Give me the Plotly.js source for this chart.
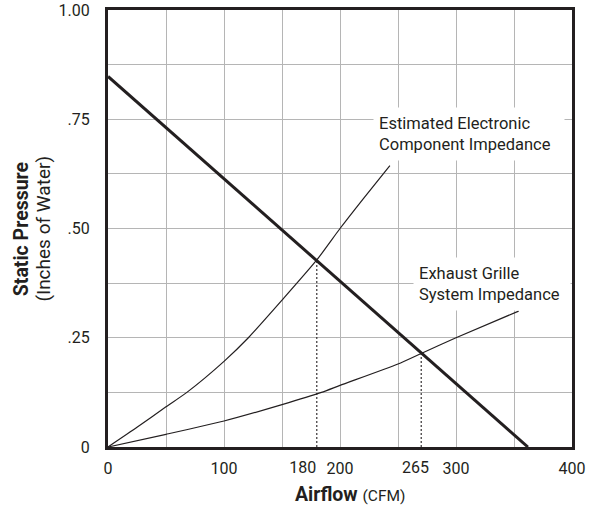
<!DOCTYPE html>
<html>
<head>
<meta charset="utf-8">
<script src="https://cdn.plot.ly/plotly-3.0.1.min.js"></script>
<style>html,body{margin:0;padding:0;background:#fff}#chart{width:590px;height:506px}</style>
</head>
<body>
<div id="chart"></div>
<script>
// Fan curve (thick line)
var fanX = [0, 362];
var fanY = [0.848, 0];

// Estimated electronic component impedance
var elecX = [0, 25, 50, 68, 100, 121, 150, 180, 200, 220, 243];
var elecY = [0, 0.045, 0.092, 0.125, 0.196, 0.25, 0.336, 0.428, 0.5, 0.568, 0.644];

// Exhaust grille system impedance
var grilleX = [0, 50, 100, 150, 184, 200, 250, 270, 300, 354];
var grilleY = [0, 0.029, 0.0595, 0.097, 0.125, 0.141, 0.19, 0.214, 0.25, 0.311];

// Operating points (drop lines)
var opX = [180, 270];
var opY = [0.428, 0.214];

// Axis ticks
var xGridVals = [0, 50, 100, 150, 200, 250, 300, 350, 400];
var xGridText = ["0", "", "100", "", "200", "", "300", "", "400"];
var xOp1Vals = [180];
var xOp1Text = ["180"];
var xOp2Vals = [265];
var xOp2Text = ["265"];
var yVals = [0, 0.125, 0.25, 0.375, 0.5, 0.625, 0.75, 0.875, 1.0];
var yText = ["0", "", ".25", "", ".50", "", ".75", "", "1.00"];

var ink = "#231f20";
var font = "Roboto, 'Open Sans', sans-serif";

var traces = [
  {x: elecX, y: elecY, mode: "lines", line: {color: ink, width: 1.2, shape: "spline", smoothing: 0.6}, hoverinfo: "skip"},
  {x: grilleX, y: grilleY, mode: "lines", line: {color: ink, width: 1.2, shape: "spline", smoothing: 0.6}, hoverinfo: "skip"},
  {x: [opX[0], opX[0]], y: [0, opY[0]], xaxis: "x2", mode: "lines", line: {color: ink, width: 1.1, dash: "2px,2px"}, hoverinfo: "skip"},
  {x: [opX[1], opX[1]], y: [0, opY[1]], xaxis: "x3", mode: "lines", line: {color: ink, width: 1.1, dash: "2px,2px"}, hoverinfo: "skip"},
  {x: fanX, y: fanY, mode: "lines", line: {color: ink, width: 3}, hoverinfo: "skip"}
];

var tickFont = {size: 16, color: ink, family: font};

var layout = {
  width: 590, height: 506,
  margin: {l: 108, r: 18, t: 10, b: 59},
  paper_bgcolor: "#fff", plot_bgcolor: "#fff",
  showlegend: false,
  font: {family: font, color: ink, size: 16},
  xaxis: {
    range: [0, 400], tickmode: "array", tickvals: xGridVals, ticktext: xGridText,
    showgrid: true, gridcolor: "#b5b5b5", gridwidth: 1, zeroline: false,
    showline: true, linecolor: ink, linewidth: 3, mirror: true,
    ticks: "", ticklabelstandoff: 5, tickfont: tickFont
  },
  xaxis2: {
    overlaying: "x", matches: "x", range: [0, 400], side: "bottom",
    tickmode: "array", tickvals: xOp1Vals, ticktext: xOp1Text,
    showgrid: false, zeroline: false, showline: false,
    ticks: "", ticklabelstandoff: 9, ticklabelshift: -14, tickfont: tickFont
  },
  xaxis3: {
    overlaying: "x", matches: "x", range: [0, 400], side: "bottom",
    tickmode: "array", tickvals: xOp2Vals, ticktext: xOp2Text,
    showgrid: false, zeroline: false, showline: false,
    ticks: "", ticklabelstandoff: 9, tickfont: tickFont
  },
  yaxis: {
    range: [0, 1], tickmode: "array", tickvals: yVals, ticktext: yText,
    showgrid: true, gridcolor: "#b5b5b5", gridwidth: 1, zeroline: false,
    showline: true, linecolor: ink, linewidth: 3, mirror: true,
    ticks: "", ticklabelstandoff: 12, tickfont: tickFont
  },
  annotations: [
    {text: "Estimated Electronic<br>Component Impedance", xref: "paper", yref: "paper",
     x: 0.5715, y: 0.779, xanchor: "left", yanchor: "top", align: "left",
     width: 180, height: 42, borderpad: 5, bgcolor: "#fff", showarrow: false,
     font: {size: 16.5, color: ink, family: font}},
    {text: "Exhaust Grille<br>System Impedance", xref: "paper", yref: "paper",
     x: 0.657, y: 0.4345, xanchor: "left", yanchor: "top", align: "left",
     width: 146, height: 42, borderpad: 5, bgcolor: "#fff", showarrow: false,
     font: {size: 16.5, color: ink, family: font}},
    {text: "<b>Static Pressure</b>", xref: "paper", yref: "paper",
     x: -0.186, y: 0.5, xanchor: "center", yanchor: "middle", textangle: -90,
     showarrow: false, font: {size: 19.5, color: ink, family: font}},
    {text: "(Inches of Water)", xref: "paper", yref: "paper",
     x: -0.140, y: 0.5, xanchor: "center", yanchor: "middle", textangle: -90,
     showarrow: false, font: {size: 19, color: ink, family: font}},
    {text: "<b>Airflow</b> <span style='font-size:15.5px'>(CFM)</span>", xref: "paper", yref: "paper",
     x: 0.5216, y: -0.1098, xanchor: "center", yanchor: "middle",
     showarrow: false, font: {size: 19.5, color: ink, family: font}}
  ]
};

Plotly.newPlot("chart", traces, layout, {displayModeBar: false, staticPlot: true});
</script>
</body>
</html>
